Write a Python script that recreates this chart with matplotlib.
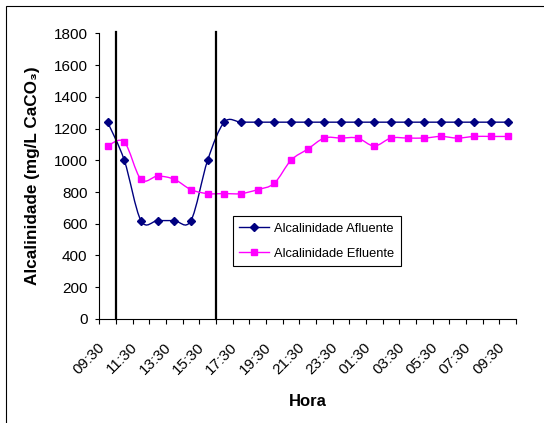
import matplotlib
matplotlib.use("Agg")
import matplotlib.pyplot as plt
from matplotlib.path import Path
from matplotlib.patches import PathPatch, Rectangle
from matplotlib.lines import Line2D
from matplotlib.transforms import ScaledTranslation

plt.rcParams['font.family'] = ['Liberation Sans', 'DejaVu Sans']

# dados
horas = ['09:30', '10:30', '11:30', '12:30', '13:30', '14:30', '15:30', '16:30',
         '17:30', '18:30', '19:30', '20:30', '21:30', '22:30', '23:30', '00:30',
         '01:30', '02:30', '03:30', '04:30', '05:30', '06:30', '07:30', '08:30', '09:30']
afluente = [1240, 1000, 620, 620, 620, 620, 1000, 1240, 1240, 1240, 1240, 1240, 1240,
            1240, 1240, 1240, 1240, 1240, 1240, 1240, 1240, 1240, 1240, 1240, 1240]
efluente = [1090, 1115, 880, 900, 880, 815, 790, 790, 790, 815, 855, 1000, 1070,
            1140, 1140, 1140, 1090, 1140, 1140, 1140, 1150, 1140, 1150, 1150, 1150]
linhas_vert = [0.5, 6.5]


def curva_suave(xs, ys):
    # linha suavizada estilo Excel (bezier cubica)
    n = len(xs)
    verts = [(xs[0], ys[0])]
    codes = [Path.MOVETO]
    for i in range(n - 1):
        x0, y0 = xs[max(i - 1, 0)], ys[max(i - 1, 0)]
        x1, y1 = xs[i], ys[i]
        x2, y2 = xs[i + 1], ys[i + 1]
        x3, y3 = xs[min(i + 2, n - 1)], ys[min(i + 2, n - 1)]
        verts += [(x1 + (x2 - x0) / 6, y1 + (y2 - y0) / 6),
                  (x2 - (x3 - x1) / 6, y2 - (y3 - y1) / 6),
                  (x2, y2)]
        codes += [Path.CURVE4] * 3
    return Path(verts, codes)


fig = plt.figure(figsize=(5.44, 4.23), dpi=100)
ax = fig.add_axes([0.1825, 0.2459, 0.766, 0.6754])

x = list(range(len(horas)))

ax.add_patch(PathPatch(curva_suave(x, afluente), fill=False, edgecolor='#000080', lw=1.0))
ax.plot(x, afluente, linestyle='none', marker='D', markersize=4, color='#000080')

ax.add_patch(PathPatch(curva_suave(x, efluente), fill=False, edgecolor='#FF00FF', lw=1.0))
ax.plot(x, efluente, linestyle='none', marker='s', markersize=5, color='#FF00FF')

for xv in linhas_vert:
    ax.plot([xv, xv], [0, 1810], color='black', lw=1.6, clip_on=False)

ax.set_xlim(-0.5, len(horas) - 0.5)
ax.set_ylim(0, 1800)
ax.set_yticks(range(0, 1801, 200))

# ticks nas divisas das categorias, rotulos a cada 2 horas
ax.set_xticks([i - 0.5 for i in range(len(horas) + 1)])
ax.set_xticklabels([])
ax.set_xticks(x[::2], minor=True)
ax.set_xticklabels(horas[::2], minor=True, rotation=45, ha='right', va='center',
                   rotation_mode='anchor', fontsize=11)
ax.tick_params(axis='x', which='minor', length=0, pad=19)
ax.tick_params(axis='x', which='major', length=3.6, width=0.8, direction='out')
ax.tick_params(axis='y', length=3, width=0.8, direction='out', labelsize=11, pad=5.5)
for lbl in ax.get_xticklabels(minor=True):
    lbl.set_transform(lbl.get_transform() + ScaledTranslation(-4 / 72, 0, fig.dpi_scale_trans))

for s in ['top', 'right']:
    ax.spines[s].set_visible(False)
for s in ['left', 'bottom']:
    ax.spines[s].set_color('#000000')
    ax.spines[s].set_linewidth(0.8)

ax.set_xlabel('Hora', fontsize=12, fontweight='bold')
ax.xaxis.set_label_coords(0.5, -0.263)
ax.set_ylabel('Alcalinidade (mg/L CaCO₃)', fontsize=12.3, fontweight='bold')
ax.yaxis.set_label_coords(-0.143, 0.5)

handles = [Line2D([], [], color='#000080', lw=1.0, marker='D', markersize=4),
           Line2D([], [], color='#FF00FF', lw=1.0, marker='s', markersize=5)]
leg = ax.legend(handles, ['Alcalinidade Afluente', 'Alcalinidade Efluente'],
                loc='upper left', bbox_to_anchor=(0.32, 0.36), fontsize=9.3,
                fancybox=False, framealpha=1, edgecolor='black', handlelength=2.3,
                handletextpad=0.4, borderpad=0.5, labelspacing=1.0, borderaxespad=0)
leg.get_frame().set_linewidth(0.8)

# moldura da figura
fig.patches.append(Rectangle((6 / 544, -0.05), 1.2, (417 / 423) + 0.05,
                             transform=fig.transFigure, fill=False,
                             edgecolor='black', lw=0.8))

fig.savefig('out.png', dpi=100)
